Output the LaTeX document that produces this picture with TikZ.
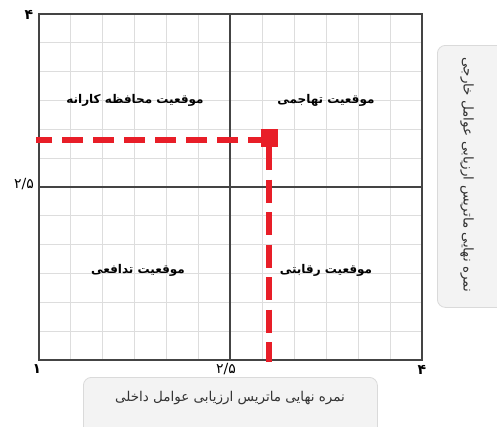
\documentclass[tikz,border=0pt]{standalone}
\usepackage{fontspec}
\setmainfont{DejaVu Sans}
\newfontfamily\fa[Script=Arabic]{DejaVu Sans}
\TeXXeTstate=1
\definecolor{gridgray}{HTML}{DDDDDD}
\definecolor{framegray}{HTML}{444444}
\definecolor{markred}{HTML}{E81E28}
\definecolor{boxfill}{HTML}{F3F3F3}
\definecolor{boxline}{HTML}{DADADA}
\definecolor{txtgray}{HTML}{333333}
\begin{document}
\begin{tikzpicture}[x=1pt,y=-1pt,
  gridline/.style={draw=gridgray, line width=1pt},
  frameline/.style={draw=framegray, line width=1.5pt},
  redline/.style={draw=markred, line width=6.5pt},
  quadlabel/.style={font=\fa\bfseries\fontsize{12}{14}\selectfont, text=black, inner sep=0pt},
  ticklabel/.style={font=\fa\fontsize{14}{16}\selectfont, text=black, inner sep=0pt},
  axbox/.style={draw=boxline, fill=boxfill, line width=0.8pt, rounded corners=8pt, inner sep=0pt},
  axlabel/.style={font=\fa\fontsize{13.5}{15}\selectfont, text=txtgray, inner sep=0pt}
]
\useasboundingbox (0,0) rectangle (497,426);
\clip (0,0) rectangle (497,426);
% axis boxes
\node[axbox, anchor=north west, minimum width=294pt, minimum height=70pt] (xbox) at (83,377) {};
\node[axbox, anchor=north west, minimum width=80pt, minimum height=262pt] (ybox) at (437,45) {};
\node[axlabel] (xlab) at (230,398) {\beginR نمره نهایی ماتریس ارزیابی عوامل داخلی\endR};
\node[axlabel, rotate=-90] (ylab) at (467,175) {\beginR نمره نهایی ماتریس ارزیابی عوامل خارجی\endR};
% grid
\foreach \k in {1,...,11} {
  \draw[gridline] ({39+\k*31.917},14) -- ({39+\k*31.917},360);
  \draw[gridline] (39,{14+\k*28.833}) -- (422,{14+\k*28.833});
}
% frame and midlines
\coordinate (tl) at (39,14);
\coordinate (br) at (422,360);
\coordinate (mt) at (230,14);
\coordinate (mb) at (230,360);
\coordinate (ml) at (39,187);
\coordinate (mr) at (422,187);
\draw[frameline] (tl) rectangle (br);
\draw[frameline] (mt) -- (mb);
\draw[frameline] (ml) -- (mr);
% tick labels
\node[ticklabel, font=\fa\bfseries\fontsize{14}{16}\selectfont] (t4y) at (29,15) {۴};
\node[ticklabel] (t25y) at (24,184) {۲/۵};
\node[ticklabel, font=\fa\bfseries\fontsize{14}{16}\selectfont] (t1) at (37,369) {۱};
\node[ticklabel] (t25x) at (226,369) {۲/۵};
\node[ticklabel, font=\fa\bfseries\fontsize{14}{16}\selectfont] (t4x) at (422,370) {۴};
% quadrant labels
\node[quadlabel] (q1) at (135,100) {\beginR موقعیت محافظه کارانه\endR};
\node[quadlabel] (q2) at (326,100) {\beginR موقعیت تهاجمی\endR};
\node[quadlabel] (q3) at (138,270) {\beginR موقعیت تدافعی\endR};
\node[quadlabel] (q4) at (326,270) {\beginR موقعیت رقابتی\endR};
% red marker
\node[fill=markred, minimum width=17pt, minimum height=18pt, inner sep=0pt] (pt) at (269,138) {};
\coordinate (hl) at (36,140);
\coordinate (vb) at (269,362);
\draw[redline, dash pattern=on 21pt off 10pt] (pt.center |- hl) -- (hl);
\draw[redline, dash pattern=on 23pt off 9.5pt] (pt.south) -- (vb);
\end{tikzpicture}
\end{document}
